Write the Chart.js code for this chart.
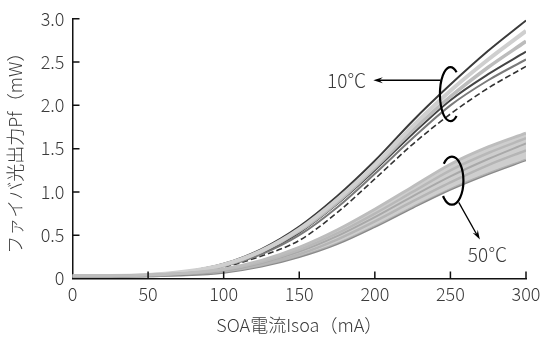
<!DOCTYPE html>
<html>
<head>
<meta charset="utf-8">
<script src="https://cdn.jsdelivr.net/npm/chart.js@4/dist/chart.umd.min.js"></script>
<style>
  body { margin: 0; background: #fff; }
  #wrap { width: 546px; height: 340px; }
</style>
</head>
<body>
<div id="wrap"><canvas id="chart"></canvas></div>
<script>
// SOA current (mA) sample points
const currentMA = [0, 25, 50, 75, 100, 125, 150, 175, 200, 225, 250, 275, 300];

// fiber output Pf (mW) at 10 C
const pf10a = [0.03, 0.03, 0.04, 0.08, 0.17, 0.34, 0.60, 0.95, 1.36, 1.82, 2.24, 2.63, 2.98];
const pf10b = [0.03, 0.03, 0.04, 0.08, 0.16, 0.32, 0.57, 0.91, 1.31, 1.76, 2.17, 2.53, 2.86];
const pf10c = [0.03, 0.03, 0.04, 0.07, 0.15, 0.31, 0.55, 0.88, 1.28, 1.71, 2.10, 2.44, 2.74];
const pf10d = [0.03, 0.03, 0.04, 0.07, 0.15, 0.30, 0.53, 0.86, 1.25, 1.67, 2.06, 2.36, 2.62];
const pf10e = [0.03, 0.03, 0.04, 0.07, 0.14, 0.28, 0.50, 0.82, 1.21, 1.62, 2.00, 2.29, 2.53];
const pf10f = [0.03, 0.03, 0.04, 0.06, 0.13, 0.26, 0.44, 0.76, 1.15, 1.55, 1.90, 2.20, 2.45];

// fiber output Pf (mW) at 50 C
const pf50a = [0.03, 0.03, 0.04, 0.06, 0.11, 0.21, 0.36, 0.56, 0.80, 1.06, 1.32, 1.52, 1.68];
const pf50b = [0.03, 0.03, 0.04, 0.06, 0.10, 0.19, 0.33, 0.52, 0.75, 1.00, 1.25, 1.45, 1.62];
const pf50c = [0.03, 0.03, 0.04, 0.05, 0.09, 0.18, 0.31, 0.49, 0.71, 0.95, 1.18, 1.38, 1.56];
const pf50d = [0.03, 0.03, 0.03, 0.05, 0.08, 0.16, 0.28, 0.45, 0.66, 0.89, 1.11, 1.31, 1.48];
const pf50e = [0.02, 0.02, 0.03, 0.04, 0.07, 0.14, 0.25, 0.40, 0.60, 0.82, 1.03, 1.21, 1.37];

const xTicks = [0, 50, 100, 150, 200, 250, 300];
const yTicks = [0, 0.5, 1.0, 1.5, 2.0, 2.5, 3.0];

const FONT = "'Noto Sans CJK JP', 'Noto Sans', sans-serif";
const TEXT = '#3a3a3a';
const pts = (ys) => currentMA.map((x, i) => ({ x, y: ys[i] }));

function curve(ys, color, width, extra = {}) {
    return Object.assign({
        data: pts(ys),
        borderColor: color,
        borderWidth: width,
        pointRadius: 0,
        fill: false,
        cubicInterpolationMode: 'monotone',
    }, extra);
}

// inward tick marks on both axes
const innerTicks = {
    id: 'innerTicks',
    afterDraw(chart) {
        const { ctx, scales: { x, y } } = chart;
        ctx.save();
        ctx.strokeStyle = '#111';
        ctx.lineWidth = 1.5;
        ctx.beginPath();
        xTicks.forEach((v) => {
            if (v === 0) return;
            const px = x.getPixelForValue(v);
            ctx.moveTo(px, y.bottom);
            ctx.lineTo(px, y.bottom - 7);
        });
        yTicks.forEach((v) => {
            if (v === 0) return;
            const py = y.getPixelForValue(v);
            ctx.moveTo(x.left, py);
            ctx.lineTo(x.left + 7, py);
        });
        ctx.stroke();
        ctx.restore();
    },
};

function arrowHead(ctx, fx, fy, tx, ty) {
    const a = Math.atan2(ty - fy, tx - fx);
    const len = 10, spread = 0.3;
    ctx.beginPath();
    ctx.moveTo(tx, ty);
    ctx.lineTo(tx - len * Math.cos(a - spread), ty - len * Math.sin(a - spread));
    ctx.lineTo(tx - len * 0.6 * Math.cos(a), ty - len * 0.6 * Math.sin(a));
    ctx.lineTo(tx - len * Math.cos(a + spread), ty - len * Math.sin(a + spread));
    ctx.closePath();
    ctx.fill();
}

// ellipses, arrows and temperature labels
const tempNotes = {
    id: 'tempNotes',
    afterDatasetsDraw(chart) {
        const { ctx, scales: { x, y } } = chart;
        ctx.save();
        ctx.strokeStyle = '#000';
        ctx.fillStyle = '#000';
        ctx.lineWidth = 2.2;

        // 10 C ring (gap on the right)
        const c1x = x.getPixelForValue(250), c1y = y.getPixelForValue(2.13);
        ctx.beginPath();
        ctx.ellipse(c1x, c1y, 10.5, 27, 0, 0.3 * Math.PI, 1.7 * Math.PI);
        ctx.stroke();

        // 10 C arrow to the left
        ctx.lineWidth = 1.3;
        const a1y = y.getPixelForValue(2.29);
        const a1tip = x.getPixelForValue(199);
        ctx.beginPath();
        ctx.moveTo(c1x - 10, a1y);
        ctx.lineTo(a1tip + 4, a1y);
        ctx.stroke();
        arrowHead(ctx, c1x, a1y, a1tip, a1y);

        // 50 C ring (gap on the left)
        ctx.lineWidth = 2.2;
        const c2x = x.getPixelForValue(251), c2y = y.getPixelForValue(1.13);
        ctx.beginPath();
        ctx.ellipse(c2x, c2y, 11.5, 24, 0, 1.25 * Math.PI, 2.78 * Math.PI);
        ctx.stroke();

        // 50 C arrow down-right
        ctx.lineWidth = 1.3;
        const f2x = x.getPixelForValue(255.5), f2y = y.getPixelForValue(0.88);
        const t2x = x.getPixelForValue(269.5), t2y = y.getPixelForValue(0.45);
        ctx.beginPath();
        ctx.moveTo(f2x, f2y);
        ctx.lineTo(t2x - 2, t2y - 3);
        ctx.stroke();
        arrowHead(ctx, f2x, f2y, t2x, t2y);

        ctx.fillStyle = TEXT;
        ctx.font = '300 19px ' + FONT;
        ctx.textBaseline = 'middle';
        ctx.textAlign = 'right';
        ctx.fillText('10℃', a1tip - 7, a1y + 1);
        ctx.textAlign = 'left';
        ctx.fillText('50℃', x.getPixelForValue(261.5), y.getPixelForValue(0.27));
        ctx.restore();
    },
};

new Chart(document.getElementById('chart'), {
    type: 'line',
    data: {
        datasets: [
            // 50 C band and curves
            curve(pf50a, '#bdbdbd', 3, { fill: '+4', backgroundColor: 'rgba(190,190,190,0.75)' }),
            curve(pf50b, '#a8a8a8', 2.5),
            curve(pf50c, '#6e6e6e', 2),
            curve(pf50d, '#9a9a9a', 2.5),
            curve(pf50e, '#8a8a8a', 2.5),
            // 10 C curves
            curve(pf10b, '#cfcfcf', 4),
            curve(pf10c, '#bcbcbc', 3.5),
            curve(pf10a, '#3a3a3a', 2),
            curve(pf10d, '#444', 2),
            curve(pf10e, '#7a7a7a', 2),
            curve(pf10f, '#333', 1.6, { borderDash: [6, 3] }),
        ],
    },
    options: {
        responsive: true,
        maintainAspectRatio: false,
        animation: false,
        layout: { padding: { top: 18, right: 20, left: 0, bottom: 0 } },
        plugins: { legend: { display: false }, tooltip: { enabled: false } },
        scales: {
            x: {
                type: 'linear',
                min: 0,
                max: 300,
                afterBuildTicks: (s) => { s.ticks = xTicks.map((v) => ({ value: v })); },
                afterFit: (s) => { s.height = 61.5; },
                grid: { display: false, drawTicks: false },
                border: { display: true, color: '#111', width: 1.5 },
                ticks: { color: TEXT, padding: 5, font: { family: FONT, size: 18, weight: '300' }, maxRotation: 0 },
                title: {
                    display: true,
                    text: 'SOA電流Isoa（mA）',
                    color: TEXT,
                    font: { family: FONT, size: 18, weight: '300' },
                    padding: { top: 5 },
                },
            },
            y: {
                min: 0,
                max: 3,
                afterBuildTicks: (s) => { s.ticks = yTicks.map((v) => ({ value: v })); },
                afterFit: (s) => { s.width = 72.5; },
                grid: { display: false, drawTicks: false },
                border: { display: true, color: '#111', width: 1.5 },
                ticks: {
                    color: TEXT,
                    padding: 8,
                    font: { family: FONT, size: 18, weight: '300' },
                    callback: (v) => (v === 0 ? '0' : v.toFixed(1)),
                },
                title: {
                    display: true,
                    text: 'ファイバ光出力Pf（mW）',
                    color: TEXT,
                    font: { family: FONT, size: 18, weight: '300' },
                    padding: { bottom: 1 },
                },
            },
        },
    },
    plugins: [innerTicks, tempNotes],
});
</script>
</body>
</html>
